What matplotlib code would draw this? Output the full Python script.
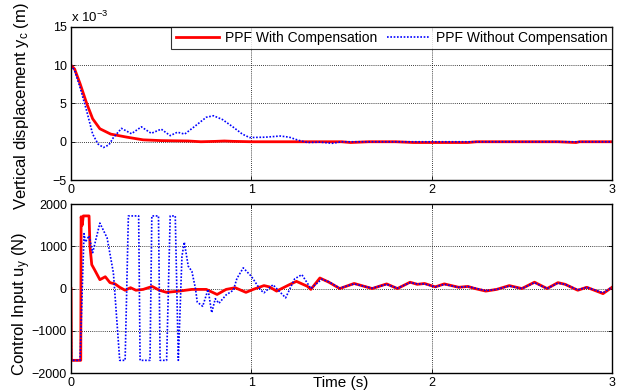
import numpy as np
import matplotlib
matplotlib.use('Agg')
import matplotlib.pyplot as plt

plt.rcParams['font.family'] = ['Liberation Sans', 'DejaVu Sans']
plt.rcParams['mathtext.fontset'] = 'custom'
plt.rcParams['mathtext.rm'] = 'Liberation Sans'
plt.rcParams['mathtext.it'] = 'Liberation Sans:italic'

# vertical displacement (units of 1e-3 m)
disp_comp_t = [0, 0.02, 0.05, 0.087, 0.12, 0.16, 0.22, 0.31, 0.4, 0.5, 0.65, 0.72, 0.8, 0.85,
               0.9, 1.0, 1.2, 1.4, 1.5, 1.55, 1.6, 1.65, 1.8, 1.9, 2.0, 2.2, 2.25, 2.5, 2.7, 2.8,
               2.82, 3.0]
disp_comp = [10, 9.5, 7.6, 5.0, 3.0, 1.7, 1.0, 0.6, 0.25, 0.15, 0.1, 0.0, 0.05, 0.1,
             0.05, 0.0, 0.0, 0.0, 0.0, -0.1, -0.05, 0.0, 0.0, -0.1, -0.1, -0.1, 0.0, 0.0, 0.0, -0.1,
             0.0, 0.0]
disp_nocomp_t = [0, 0.02, 0.05, 0.087, 0.12, 0.15, 0.18, 0.21, 0.235, 0.28, 0.335, 0.39, 0.445,
                 0.5, 0.55, 0.59, 0.63, 0.68, 0.75, 0.79, 0.84, 0.9, 0.95, 0.99, 1.08, 1.16, 1.21,
                 1.26, 1.31, 1.38, 1.45, 1.5, 1.6, 1.8, 2.0, 2.5, 3.0]
disp_nocomp = [10, 9.3, 7.1, 4.0, 1.0, -0.3, -0.75, -0.4, 0.55, 1.75, 1.05, 1.95, 1.1,
               1.65, 0.8, 1.25, 1.0, 1.9, 3.2, 3.4, 2.9, 1.9, 1.0, 0.55, 0.6, 0.75, 0.6,
               0.2, -0.1, -0.05, -0.2, 0.0, 0.0, 0.0, 0.0, 0.0, 0.0]

# control input (N)
u_comp_t = [0, 0.002, 0.054, 0.056, 0.062, 0.068, 0.10, 0.105, 0.115, 0.13, 0.16, 0.19, 0.216,
            0.244, 0.27, 0.30, 0.33, 0.36, 0.40, 0.45, 0.49, 0.53, 0.6, 0.67, 0.75, 0.81, 0.86,
            0.91, 0.97, 1.01, 1.07, 1.1, 1.14, 1.21, 1.25, 1.31, 1.33, 1.38, 1.43, 1.49, 1.57,
            1.67, 1.75, 1.81, 1.88, 1.92, 1.96, 2.02, 2.07, 2.15, 2.2, 2.24, 2.3, 2.36, 2.43,
            2.5, 2.57, 2.64, 2.7, 2.74, 2.81, 2.86, 2.95, 3.0]
u_comp = [0, -1700, -1700, 1700, 1500, 1720, 1720, 1000, 565, 450, 210, 280, 140,
          110, 30, -40, 20, -40, -20, 50, -40, -90, -60, -20, -20, -140, -20,
          20, -90, -20, 70, 40, -60, 90, 170, 55, -20, 250, 150, 0, 120,
          0, 110, 0, 150, 100, 120, 40, 110, 30, 50, 0, -60, -20, 70,
          0, 150, 0, 140, 100, -40, 30, -120, 30]
u_nocomp_t = [0, 0.002, 0.05, 0.072, 0.08, 0.1, 0.12, 0.16, 0.2, 0.235, 0.27, 0.3, 0.318, 0.375,
              0.383, 0.438, 0.448, 0.485, 0.494, 0.53, 0.55, 0.578, 0.595, 0.615, 0.628, 0.65,
              0.67, 0.69, 0.70, 0.73, 0.76, 0.78, 0.8, 0.82, 0.86, 0.9, 0.92, 0.955, 1.0, 1.05,
              1.07, 1.12, 1.19, 1.24, 1.28, 1.33, 1.39, 1.43, 1.49, 1.57, 1.67, 1.75, 1.81, 1.88,
              1.92, 1.96, 2.02, 2.07, 2.15, 2.2, 2.24, 2.3, 2.36, 2.43, 2.5, 2.57, 2.64, 2.7,
              2.74, 2.81, 2.86, 2.95, 3.0]
u_nocomp = [0, -1700, -1700, 1300, 1100, 1250, 850, 1550, 1200, 370, -1700, -1700, 1720, 1720,
            -1700, -1700, 1720, 1720, -1700, -1700, 1720, 1720, -1700, 760, 1100, 530,
            410, 0, -320, -420, -20, -570, -240, -350, -150, -40, 240, 490, 290, -30,
            -100, 90, -220, 230, 330, 0, 220, 160, 10, 110, 10, 100, 10, 140,
            110, 110, 40, 100, 30, 50, 10, -50, -20, 60, 0, 140, 0, 130,
            100, -30, 30, -100, 30]

fig = plt.figure(figsize=(6.37, 3.91), dpi=100)
ax1 = fig.add_axes([0.1115, 0.5396, 0.8493, 0.3914])
ax2 = fig.add_axes([0.1115, 0.046, 0.8493, 0.432])

ax1.plot(disp_comp_t, disp_comp, color='red', lw=2, label='PPF With Compensation')
ax1.plot(disp_nocomp_t, disp_nocomp, color='blue', lw=1.2, linestyle=(0, (1, 1)),
         label='PPF Without Compensation')
ax2.plot(u_comp_t, u_comp, color='red', lw=2)
ax2.plot(u_nocomp_t, u_nocomp, color='blue', lw=1.2, linestyle=(0, (1, 1)))

ax1.set_ylim(-5, 15)
ax1.set_yticks([-5, 0, 5, 10, 15])
ax2.set_ylim(-2000, 2000)
ax2.set_yticks([-2000, -1000, 0, 1000, 2000])

for ax in (ax1, ax2):
    ax.set_xlim(0, 3)
    ax.set_xticks([0, 1, 2, 3])
    ax.grid(True, color='black', linestyle=(0, (1, 1.5)), linewidth=0.6)
    ax.tick_params(direction='in', top=True, right=True, length=3, width=0.6,
                   labelsize=9, pad=3)
    for s in ax.spines.values():
        s.set_linewidth(1.0)

leg = ax1.legend(loc='upper right', ncol=2, fontsize=10, frameon=True, fancybox=False,
                 edgecolor='black', borderaxespad=0, handlelength=3.1, columnspacing=0.7,
                 borderpad=0.3, handletextpad=0.45)
leg.get_frame().set_linewidth(0.8)

fig.text(0.1115, 0.955, r'x 10$^{-3}$', fontsize=9.5, ha='left', va='center')
fig.text(0.034, 0.73, r'Vertical displacement y$_\mathrm{c}$ (m)', fontsize=12,
         rotation=90, ha='center', va='center')
fig.text(0.034, 0.224, r'Control Input u$_\mathrm{y}$ (N)', fontsize=12,
         rotation=90, ha='center', va='center')
fig.text(0.535, 0.0205, 'Time (s)', fontsize=11, ha='center', va='center')

fig.savefig('out.png', dpi=100)
